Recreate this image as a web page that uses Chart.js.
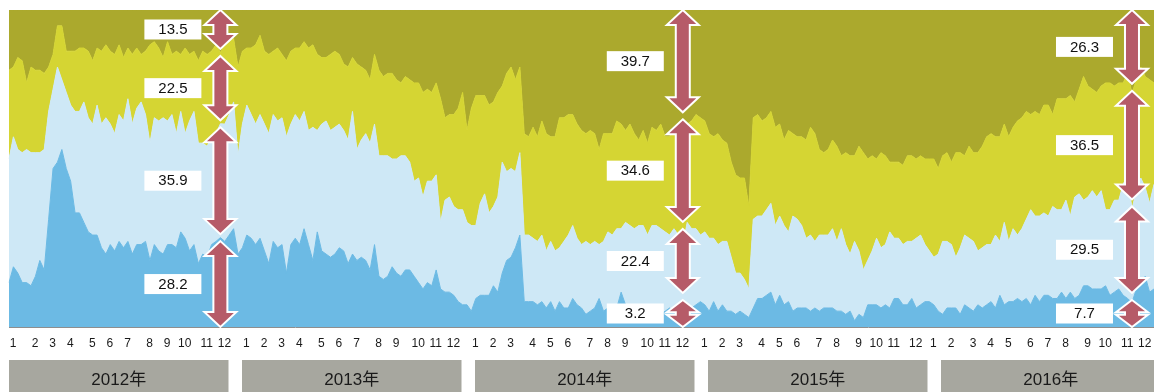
<!DOCTYPE html>
<html>
<head>
<meta charset="utf-8">
<script src="https://cdn.jsdelivr.net/npm/chart.js@4.4.1/dist/chart.umd.min.js"></script>
<style>
  html, body { margin: 0; padding: 0; background: #fff; }
  canvas { display: block; }
</style>
</head>
<body>
<canvas id="chart" width="1154" height="392"></canvas>
<script>
// Weekly shares (%), one value per Monday-starting week, 2012-01-02 .. 2016-12-26
const firstWeek = [2012, 0, 2];
const yearLabels = ['2012年', '2013年', '2014年', '2015年', '2016年'];

const shareA = [
  14,19,17,14,14,13,16,21,18,34,
  50,52,56,50,46,36,36,33,30,29,
  29,25,23,26,24,27,25,27,23,26,
  26,27,21,26,24,23,26,26,25,30,
  28,24,26,20,23,22,26,27,28.2,27,
  29,31,23,25,29,28,26,28,24,20,
  27,25,26,17,26,28,26,31,26,21,
  30,24,23,22,23,25,24,20,23,21,
  22,21,18,26,16,15,16,19,17,16,
  18,18,16,14,12,14,13,18,12,11,
  11,10,8,7,7,5,9,10,10,10,
  13,11,17,21,22,25,29,8,8,8,
  7,8,6,8,5,8,6,6,9,7,
  6,4,5,6,9,5,6,7,6,11,
  7,6,7,5,7,7,5,7,4,5,
  6,5,4,3.2,5,6,7,8,7,5,
  8,5,7,5,5,4,5,4,3,6,
  9,9,10,11,7,10,7,8,5,6,
  6,6,5,6,5,6,6,6,5,5,
  4,5,2,4,3,7,7,7,6,7,
  6,9,9,7,7,9,6,7,8,8,
  7,5,4,6,6,6,4,7,6,5,
  7,6,7,8,6,10,7,8,8,9,
  8,9,7,10,8,10,10,9,9,11,
  9,11,9,10,13,13,12,12,12,13,
  10,11,12,10,9,7.7,12,13,16,11,
  12
];

const shareB = [
  39,41,39,41,42,42,39,34,38,34,
  25,30,22,24,24,32,32,38,36,35,
  41,39,43,38,37,40,40,45,41,43,
  45,40,37,40,41,43,39,41,36,38,
  33,41,42,38,35,35,34,34,35.9,37,
  38,40,31,39,41,39,38,39,40,41,
  40,40,40,43,38,39,39,37,36,42,
  32,40,42,40,40,39,38,39,45,35,
  37,40,40,38,38,39,38,34,36,38,
  36,34,30,33,29,32,33,30,21,29,
  30,28,29,30,26,27,23,29,32,26,
  25,30,35,28,28,24,26,21,21,20,
  20,21,18,19,19,17,21,23,23,21,
  20,23,21,21,17,22,24,22,25,20,
  26,26,24,27,25,22,27,25,27,25,
  23,26,25,22.4,28,25,24,21,23,23,
  20,21,20,22,17,13,12,11,9,28,
  26,26,27,28,25,25,25,22,30,28,
  26,22,24,21,24,23,23,25,22,26,
  22,18,25,20,15,14,17,21,19,19,
  24,19,19,19,20,18,22,22,18,16,
  15,18,23,21,20,16,21,22,22,22,
  17,19,19,18,23,17,26,19,23,20,
  23,25,30,25,27,26,25,29,28,26,
  31,24,32,32,27,28,31,29,31,24,
  27,29,28,35,39,29.5,31,34,28,28,
  33
];

const shareC = [
  28,22,29,29,21,27,26,26,24,14,
  11,13,17,13,17,19,20,17,21,20,
  18,23,23,23,25,22,20,16,22,19,
  15,20,31,24,23,19,25,19,26,18,
  27,21,19,26,29,29,27,28,22.5,25,
  23,20,28,23,18,21,25,25,23,25,
  20,23,20,24,23,21,23,22,26,26,
  24,21,20,24,24,22,21,23,17,27,
  23,20,20,22,27,25,26,27,25,23,
  25,26,31,30,33,29,28,29,39,26,
  26,29,32,37,29,37,41,34,31,34,
  33,33,24,31,32,29,27,32,31,35,
  33,36,37,33,36,41,39,38,35,36,
  36,34,36,34,30,34,31,32,34,33,
  29,32,30,27,30,29,31,30,33,30,
  31,32,33,34.6,31,34,36,37,35,33,
  32,35,32,31,30,31,30,32,26,32,
  32,30,29,29,31,29,27,32,26,26,
  28,31,34,34,27,26,27,28,30,23,
  29,31,27,33,37,32,30,25,30,28,
  22,24,24,25,27,27,25,25,27,29,
  31,27,27,28,26,33,30,25,29,28,
  31,32,34,35,31,33,31,33,32,36,
  35,34,30,33,32,34,35,29,35,35,
  32,38,30,33,39,35,32,33,33,40,
  40,36,37,32,32,36.5,35,35,35,39,
  32
];

const shareD = [
  19,18,15,16,23,18,19,19,20,18,
  14,5,5,13,13,13,12,12,13,16,
  12,13,11,13,14,11,15,12,14,12,
  14,13,11,10,12,15,10,14,13,14,
  12,14,13,16,13,14,13,11,13.5,11,
  10,9,18,13,12,12,11,8,13,14,
  13,12,14,16,13,12,12,10,12,11,
  14,15,15,14,13,14,17,18,15,17,
  18,19,22,14,19,21,20,20,22,23,
  21,22,23,23,26,25,26,23,28,34,
  33,33,31,26,38,31,27,27,27,30,
  29,26,24,20,18,22,18,39,40,37,
  40,35,39,40,40,34,34,33,33,36,
  38,39,38,39,44,39,39,39,35,36,
  38,36,39,41,38,42,37,38,36,40,
  40,37,38,39.7,36,35,33,34,35,39,
  40,39,41,42,48,52,53,53,62,34,
  33,35,34,32,37,36,41,38,39,40,
  40,41,37,39,44,45,44,41,43,46,
  45,46,46,43,45,47,46,47,45,46,
  48,48,48,49,46,46,47,46,47,47,
  47,50,46,45,48,45,45,46,43,45,
  45,43,40,39,40,40,36,40,37,35,
  34,32,33,32,33,30,30,33,28,28,
  28,27,29,25,21,24,25,26,24,23,
  23,24,23,23,20,26.3,22,18,21,22,
  23
];

// Weeks that carry a callout with the four shares
const calloutWeeks = [48, 153, 255];

const FONT = "'Liberation Sans', Arial, 'Noto Sans CJK JP', sans-serif";
const COLORS = ['#6cbae4', '#cee8f6', '#d5d533', '#aba92d'];

// Week start dates as category labels
const weekLabels = [];
{
  const t0 = Date.UTC(firstWeek[0], firstWeek[1], firstWeek[2]);
  for (let i = 0; i < shareA.length; i++) {
    weekLabels.push(new Date(t0 + i * 7 * 86400000).toISOString().slice(0, 10));
  }
}
// Month number on the first week of each month
function monthTick(label) {
  const parts = label.split('-').map(Number);
  return parts[2] <= 7 ? String(parts[1]) : '';
}

function drawDoubleArrow(ctx, x, top, bot) {
  const len = bot - top;
  const hw = 16, sw = 7;
  const hl = Math.min(15, len * 0.45);
  ctx.beginPath();
  ctx.moveTo(x, top);
  ctx.lineTo(x + hw, top + hl);
  ctx.lineTo(x + sw, top + hl);
  ctx.lineTo(x + sw, bot - hl);
  ctx.lineTo(x + hw, bot - hl);
  ctx.lineTo(x, bot);
  ctx.lineTo(x - hw, bot - hl);
  ctx.lineTo(x - sw, bot - hl);
  ctx.lineTo(x - sw, top + hl);
  ctx.lineTo(x - hw, top + hl);
  ctx.closePath();
  ctx.fillStyle = '#b65b68';
  ctx.fill();
  ctx.lineWidth = 2;
  ctx.strokeStyle = '#ffffff';
  ctx.lineJoin = 'miter';
  ctx.stroke();
}

const decorPlugin = {
  id: 'decor',
  afterDraw(chart) {
    const ctx = chart.ctx;
    const a = chart.chartArea;
    const xs = chart.scales.x, ys = chart.scales.y;
    ctx.save();

    // Year bands under the month ticks (the last one runs off the right edge)
    const gap = 13.5, bw = 219.5;
    ctx.font = '17px ' + FONT;
    ctx.textAlign = 'center';
    ctx.textBaseline = 'middle';
    yearLabels.forEach((t, k) => {
      const bx = a.left + k * (bw + gap);
      ctx.fillStyle = '#a7a79f';
      ctx.fillRect(bx, 360, bw, 40);
      ctx.fillStyle = '#1a1a1a';
      ctx.fillText(t, bx + bw / 2, 380);
    });

    // Share callouts: one double arrow per layer, sized from its value
    const g = 3.5, minLen = 27;
    calloutWeeks.forEach(idx => {
      const px = xs.getPixelForValue(idx);
      const vals = chart.data.datasets.map(ds => ds.data[idx]);
      const bounds = [ys.getPixelForValue(0)];
      let cum = 0;
      vals.forEach(v => { cum += v; bounds.push(Math.max(a.top, ys.getPixelForValue(cum))); });
      let limit = a.bottom;
      const spans = [];
      for (let k = 0; k < vals.length; k++) {
        let bot = bounds[k] - (k === 0 ? 0 : g);
        let top = bounds[k + 1] + (k === vals.length - 1 ? 0 : g);
        if (bot - top < minLen) {
          const c = (bot + top) / 2;
          bot = c + minLen / 2; top = c - minLen / 2;
        }
        if (bot > limit) { const sh = bot - limit; bot -= sh; top -= sh; }
        if (top < a.top) top = a.top;
        spans.push([top, bot]);
        limit = top - 2 * g;
      }
      spans.forEach((s, k) => {
        drawDoubleArrow(ctx, px, s[0], s[1]);
        const cy = (s[0] + s[1]) / 2;
        const boxW = 57, boxH = 20;
        const bx = px - 19 - boxW;
        ctx.fillStyle = '#ffffff';
        ctx.fillRect(bx, cy - boxH / 2, boxW, boxH);
        ctx.fillStyle = '#111111';
        ctx.font = '15px ' + FONT;
        ctx.textAlign = 'center';
        ctx.textBaseline = 'middle';
        ctx.fillText(vals[k].toFixed(1), bx + boxW / 2, cy + 0.5);
      });
    });
    ctx.restore();
  }
};

const seriesArrays = [shareA, shareB, shareC, shareD];
const datasets = seriesArrays.map((arr, k) => ({
  label: 'share' + (k + 1),
  data: arr,
  backgroundColor: COLORS[k],
  borderColor: COLORS[k],
  borderWidth: 1,
  fill: k === 0 ? 'origin' : '-1',
  pointRadius: 0,
  tension: 0
}));

new Chart(document.getElementById('chart'), {
  type: 'line',
  data: { labels: weekLabels, datasets },
  options: {
    responsive: false,
    animation: false,
    layout: { padding: { left: 9, right: 0, top: 10, bottom: 32 } },
    plugins: { legend: { display: false }, tooltip: { enabled: false } },
    scales: {
      x: {
        grid: { display: false, drawTicks: false },
        border: { display: true, color: '#8e8e8e', width: 1 },
        afterFit(scale) {
          // the plot runs edge to edge; month labels may overhang
          scale.paddingLeft = 0;
          scale.paddingRight = 0;
          scale.height = 33;
        },
        ticks: {
          autoSkip: false,
          maxRotation: 0,
          minRotation: 0,
          padding: 9,
          labelOffset: 4,
          color: '#1a1a1a',
          font: { family: FONT, size: 12 },
          callback: (v, i) => monthTick(weekLabels[i])
        }
      },
      y: { display: false, stacked: true, min: 0, max: 100 }
    }
  },
  plugins: [decorPlugin]
});
</script>
</body>
</html>
